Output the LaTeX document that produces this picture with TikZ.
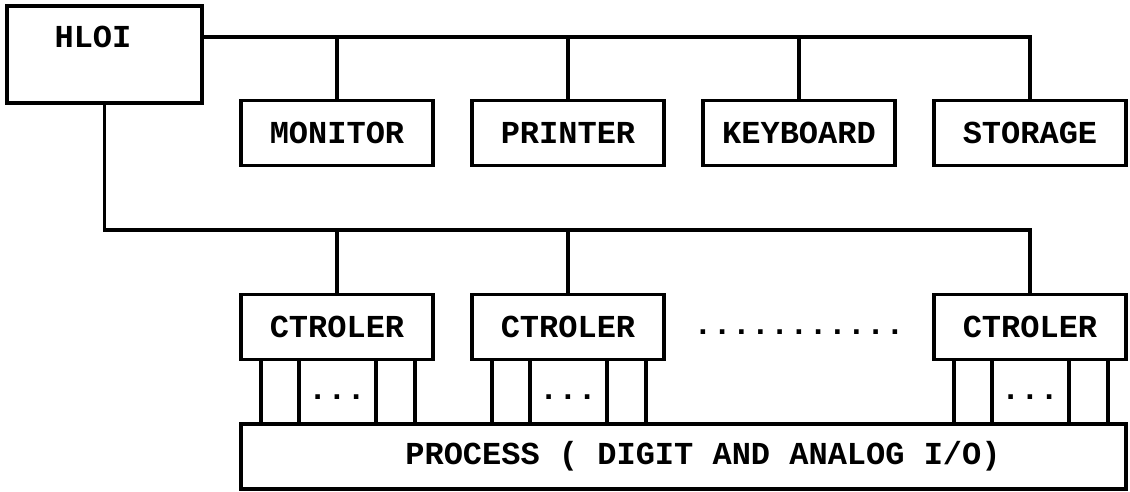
\documentclass[tikz,border=0pt]{standalone}
\usepackage{fontspec}
\newfontfamily\dotmatrix{Liberation Mono}
\usetikzlibrary{positioning,calc}

\begin{document}
\begin{tikzpicture}[
    x=0.5pt, y=-0.5pt,
    node distance=64.5pt and 19.5pt,
    every node/.style={font=\dotmatrix\bfseries\fontsize{16}{19}\selectfont},
    hostNode/.style={rectangle, draw, line width=1.6pt, outer sep=0pt, minimum width=97.5pt, minimum height=48.5pt},
    devNode/.style={rectangle, draw, line width=1.6pt, outer sep=0pt, inner sep=0pt, minimum width=96pt, minimum height=32.5pt},
    ctrlNode/.style={devNode},
    procNode/.style={rectangle, draw, line width=1.6pt, outer sep=0pt, inner sep=0pt, minimum width=442.5pt, minimum height=32.5pt},
    dotsNode/.style={anchor=base, inner sep=0pt},
    busEdge/.style={draw, line width=1.6pt}
]
    \useasboundingbox (0,0) rectangle (1130,492);

    \node [hostNode] (hloi) at (104.5,54.5) {};
    \node [inner sep=0pt] (hloitext) at (93,37) {HLOI};

    \node [devNode] (mon) at (337,133) {MONITOR};
    \node [devNode, right=of mon] (prn) {PRINTER};
    \node [devNode, right=of prn] (kbd) {KEYBOARD};
    \node [devNode, right=of kbd] (sto) {STORAGE};

    \node [ctrlNode, below=of mon] (c1) {CTROLER};
    \node [ctrlNode, below=of prn] (c2) {CTROLER};
    \node [ctrlNode, below=of sto] (c3) {CTROLER};
    \node [dotsNode, yshift=-3.75pt] (more) at ($(c2.east)!0.5!(c3.west)$) {...........};

    \node [procNode] (proc) at (683.5,456.5) {\hspace*{19.5pt}PROCESS ( DIGIT AND ANALOG I/O)};

    \path [busEdge] (hloitext -| hloi.east) -- (hloitext -| sto.north) -- (sto.north);
    \foreach \n in {mon,prn,kbd}
        \path [busEdge] (hloitext -| \n.north) -- (\n.north);

    \coordinate (cbus) at (0,230);
    \path [busEdge] (hloi.south) |- (cbus -| c3.north) -- (c3.north);
    \foreach \n in {c1,c2}
        \path [busEdge] (cbus -| \n.north) -- (\n.north);

    \foreach \c in {c1,c2,c3} {
        \foreach \dx in {-38,-19,19.5,39}
            \path [busEdge] ([xshift=\dx pt]\c.south) -- ([xshift=\dx pt]\c.south |- proc.north);
        \node [dotsNode, yshift=-4pt] (\c-io) at ($(\c.south)!0.5!(\c.south |- proc.north)$) {...};
    }
\end{tikzpicture}
\end{document}
